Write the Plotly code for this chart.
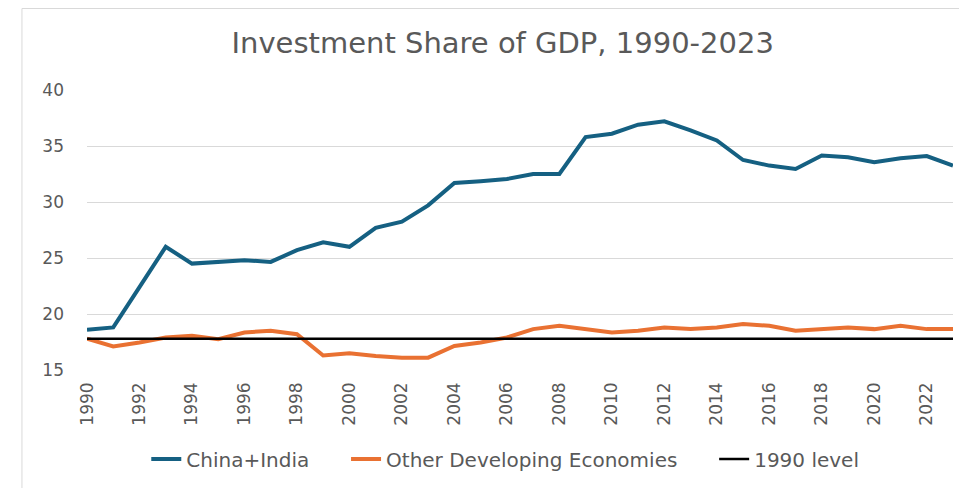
import plotly.graph_objects as go

years = list(range(1990, 2024))
china_india = [18.6, 18.8, 22.4, 26.0, 24.5, 24.65, 24.8, 24.65, 25.7, 26.4,
               26.0, 27.7, 28.25, 29.7, 31.7, 31.85, 32.05, 32.5, 32.5, 35.8,
               36.1, 36.9, 37.2, 36.4, 35.5, 33.75, 33.25, 32.95, 34.15, 34.0,
               33.55, 33.9, 34.1, 33.25]
other_dev = [17.8, 17.1, 17.45, 17.9, 18.05, 17.75, 18.35, 18.5, 18.2, 16.3,
             16.5, 16.25, 16.1, 16.1, 17.15, 17.45, 17.9, 18.65, 18.95, 18.65,
             18.35, 18.5, 18.8, 18.65, 18.8, 19.1, 18.95, 18.5, 18.65, 18.8,
             18.65, 18.95, 18.65, 18.65]
level_1990 = other_dev[0]
x_ticks = list(range(1990, 2023, 2))
y_ticks = [15, 20, 25, 30, 35, 40]
series_names = ["China+India", "Other Developing Economies", "1990 level"]

grey = "#595959"
font = "DejaVu Sans"
pad = "\u00a0" * 5

fig = go.Figure()
fig.add_trace(go.Scatter(x=years, y=china_india, mode="lines", name=series_names[0] + pad,
                         line=dict(color="#156082", width=4)))
fig.add_trace(go.Scatter(x=years, y=other_dev, mode="lines", name=series_names[1] + pad,
                         line=dict(color="#E97132", width=4)))
fig.add_trace(go.Scatter(x=years, y=[level_1990] * len(years), mode="lines", name=series_names[2],
                         line=dict(color="#000000", width=2.5)))

fig.update_layout(
    width=959, height=480,
    margin=dict(l=79, r=14, t=82, b=118, autoexpand=False),
    paper_bgcolor="white", plot_bgcolor="white",
    font=dict(family=font, color=grey, size=17),
    title=dict(text="Investment Share of GDP, 1990-2023", x=0.48, xref="paper",
               xanchor="center", y=1 - 35 / 480, yref="container", yanchor="middle",
               font=dict(family=font, size=29, color=grey)),
    showlegend=True,
    legend=dict(orientation="h", x=0.483, xanchor="center", y=-0.318, yanchor="middle",
                font=dict(family=font, size=20, color=grey), bgcolor="rgba(0,0,0,0)"),
    xaxis=dict(range=[1990, 2023], tickvals=x_ticks, ticktext=[str(v) for v in x_ticks],
               tickangle=-90, showgrid=False, zeroline=False, showline=False,
               ticks="", ticklabelstandoff=8,
               tickfont=dict(family=font, size=17, color=grey)),
    yaxis=dict(range=[15, 40], tickvals=y_ticks, showgrid=True, gridcolor="#d9d9d9",
               gridwidth=1, zeroline=False, showline=False, ticks="",
               ticklabelstandoff=22,
               tickfont=dict(family=font, size=17, color=grey)),
    shapes=[dict(type="rect", xref="paper", yref="paper",
                 x0=-0.0751, x1=1.03, y0=-0.45, y1=1.291,
                 line=dict(color="#d9d9d9", width=1), fillcolor="rgba(0,0,0,0)",
                 layer="below")],
)

fig.write_html("out.html")
